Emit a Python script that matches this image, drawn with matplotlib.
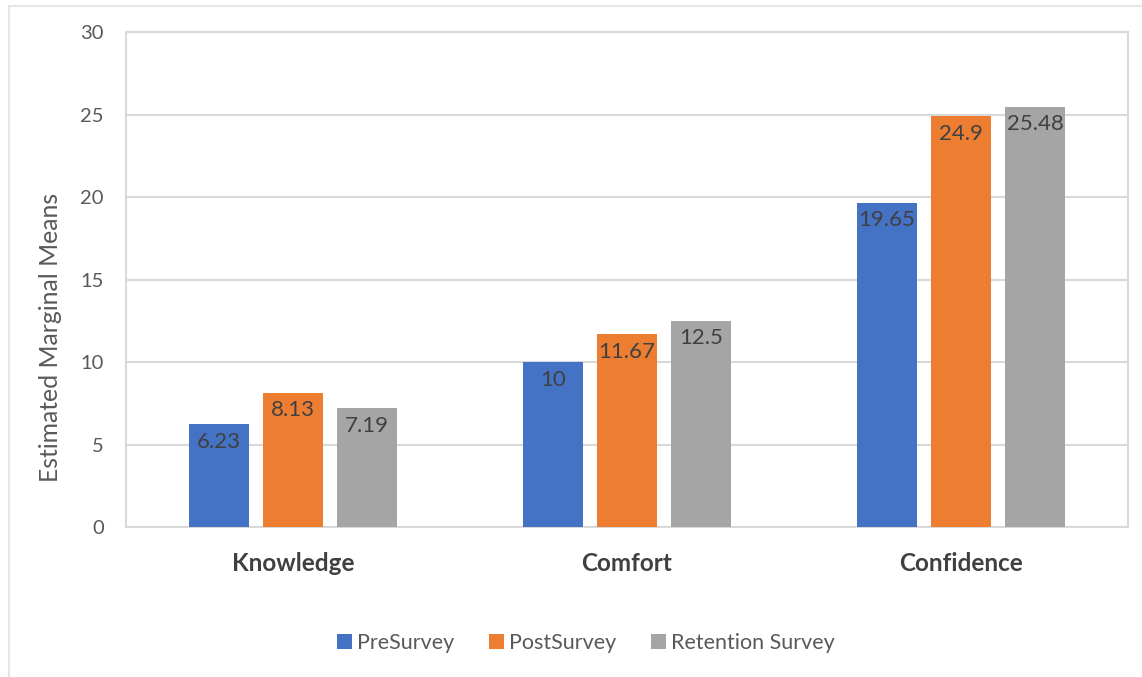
import matplotlib
matplotlib.use("Agg")
import matplotlib.pyplot as plt
from matplotlib.patches import Rectangle
import numpy as np

plt.rcParams['font.family'] = ['Lato', 'DejaVu Sans']

categories = ["Knowledge", "Comfort", "Confidence"]
series_names = ["PreSurvey", "PostSurvey", "Retention Survey"]
pre_survey = [6.23, 10, 19.65]
post_survey = [8.13, 11.67, 24.9]
retention_survey = [7.19, 12.5, 25.48]
y_ticks = [0, 5, 10, 15, 20, 25, 30]

colors = ["#4472C4", "#ED7D31", "#A5A5A5"]
grid_color = "#D9D9D9"

W, H = 1142, 677
fig = plt.figure(figsize=(W / 100, H / 100), dpi=100)
ax = fig.add_axes([126 / W, 1 - 527 / H, (1128 - 126) / W, (527 - 32) / H])

# outer chart frame (left and top edges visible)
fig.patches.append(Rectangle((9 / W, -0.05), 1.2, 1 - 6 / H + 0.05,
                             transform=fig.transFigure, fill=False,
                             edgecolor="#E6E6E6", linewidth=1.5))

x = np.arange(len(categories))
width = 0.177
step = 0.2216
all_series = [pre_survey, post_survey, retention_survey]
for i, (vals, name, c) in enumerate(zip(all_series, series_names, colors)):
    pos = x + (i - 1) * step
    bars = ax.bar(pos, vals, width, color=c, label=name, zorder=3)
    for b, v in zip(bars, vals):
        ax.annotate(f"{v:g}", (b.get_x() + b.get_width() / 2, v),
                    xytext=(0, -5.5), textcoords="offset points",
                    ha="center", va="top", fontsize=16, color="#404040",
                    zorder=4)

ax.set_xlim(-0.5, 2.5)
ax.set_ylim(0, 30)
ax.set_yticks(y_ticks)
ax.set_yticklabels([str(t) for t in y_ticks], fontsize=14.5, color="#595959")
ax.set_xticks(x)
ax.set_xticklabels(categories, fontsize=17.5, fontweight="bold", color="#404040")
ax.tick_params(axis="both", length=0)
ax.tick_params(axis="y", pad=16)
ax.tick_params(axis="x", pad=18)
ax.yaxis.grid(True, color=grid_color, linewidth=1.5, zorder=0)
for s in ax.spines.values():
    s.set_color(grid_color)
    s.set_linewidth(1.5)

ax.set_ylabel("Estimated Marginal Means", fontsize=17.8, color="#595959")
ax.yaxis.set_label_coords(-64 / 1002, 190 / 495)

leg = fig.legend(loc="center", bbox_to_anchor=(586 / W, 1 - 643 / H), ncol=3,
                 frameon=False, fontsize=15.5, handlelength=0.7, handleheight=0.7,
                 columnspacing=1.6, handletextpad=0.25)
for t in leg.get_texts():
    t.set_color("#595959")

fig.savefig("out.png", dpi=100, facecolor="white")
